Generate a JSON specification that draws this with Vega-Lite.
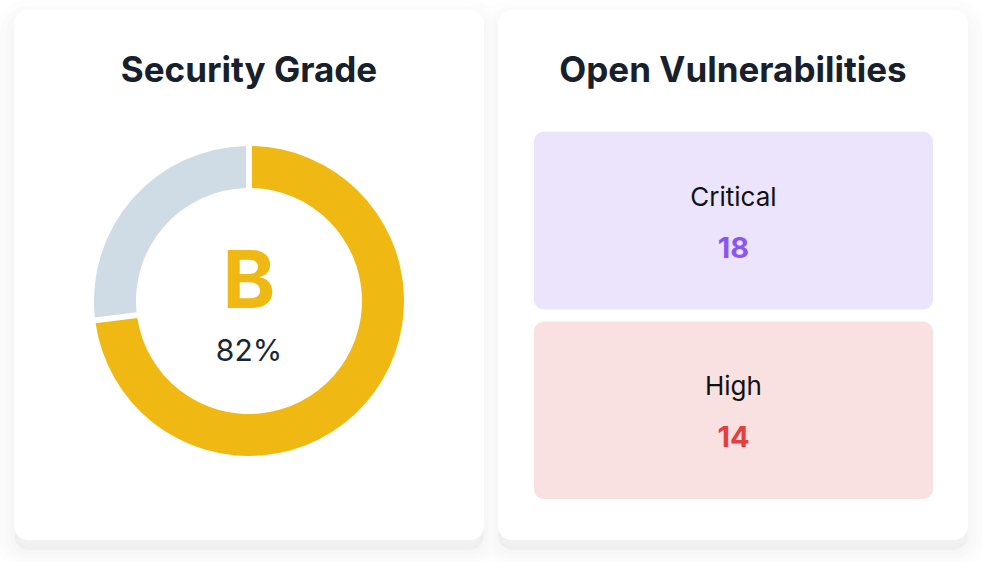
{
  "$schema": "https://vega.github.io/schema/vega-lite/v6.json",
  "background": "#ffffff",
  "padding": 0,
  "spacing": 0,
  "config": {"view": {"stroke": null}, "font": "Inter"},
  "resolve": {"scale": {"color": "independent", "fill": "independent"}},
  "datasets": {
    "cardL": [{"card": "grade"}],
    "cardR": [{"card": "vulns"}],
    "donut": [{"part": "Score", "value": 73, "rank": 1}, {"part": "Remaining", "value": 27, "rank": 2}],
    "grade": [{"grade": "B", "pct": "82%"}],
    "titleL": [{"t": "Security Grade"}],
    "titleR": [{"t": "Open Vulnerabilities"}],
    "vulns": [{"level": "Critical", "count": 18}, {"level": "High", "count": 14}]
  },
  "hconcat": [
    {
      "width": 491,
      "height": 562,
      "encoding": {
        "x": {"field": "card", "type": "nominal", "axis": null, "scale": {"type": "band", "paddingInner": 0, "paddingOuter": 0.02234, "align": 0.667}},
        "y": {"field": "card", "type": "nominal", "axis": null, "scale": {"type": "band", "paddingInner": 0, "paddingOuter": 0.0302, "align": 0.3125}}
      },
      "layer": [
        {"data": {"name": "cardL"}, "mark": {"type": "rect", "clip": true, "cornerRadius": 14, "fill": "#000", "fillOpacity": 0.009, "stroke": "#000", "strokeOpacity": 0.009, "strokeWidth": 40, "yOffset": 10}},
        {"data": {"name": "cardL"}, "mark": {"type": "rect", "clip": true, "cornerRadius": 14, "fill": "#000", "fillOpacity": 0.009, "stroke": "#000", "strokeOpacity": 0.009, "strokeWidth": 28, "yOffset": 10}},
        {"data": {"name": "cardL"}, "mark": {"type": "rect", "clip": true, "cornerRadius": 14, "fill": "#000", "fillOpacity": 0.009, "stroke": "#000", "strokeOpacity": 0.009, "strokeWidth": 18, "yOffset": 10}},
        {"data": {"name": "cardL"}, "mark": {"type": "rect", "clip": true, "cornerRadius": 14, "fill": "#000", "fillOpacity": 0.009, "stroke": "#000", "strokeOpacity": 0.009, "strokeWidth": 8, "yOffset": 10}},
        {"data": {"name": "cardL"}, "mark": {"type": "rect", "cornerRadius": 14, "fill": "#ffffff"}},
        {"data": {"name": "titleL"}, "mark": {"type": "text", "fontSize": 35, "fontWeight": "bold", "color": "#17202b", "baseline": "middle", "dy": -204},
          "encoding": {"text": {"field": "t"}, "x": {"datum": "grade", "type": "nominal"}, "y": {"datum": "grade", "type": "nominal"}}},
        {"data": {"name": "donut"}, "mark": {"type": "arc", "radius": 155, "innerRadius": 113, "padAngle": 0.031, "yOffset": 26},
          "encoding": {
            "x": {"datum": "grade", "type": "nominal"},
            "y": {"datum": "grade", "type": "nominal"},
            "theta": {"field": "value", "type": "quantitative", "stack": true},
            "order": {"field": "rank", "type": "quantitative"},
            "color": {"field": "part", "type": "nominal", "legend": null, "scale": {"domain": ["Score", "Remaining"], "range": ["#efb813", "#cfdce6"]}}
          }},
        {"data": {"name": "grade"}, "mark": {"type": "text", "fontSize": 80, "fontWeight": "bold", "color": "#efb813", "baseline": "middle", "dy": 9},
          "encoding": {"text": {"field": "grade"}, "x": {"datum": "grade", "type": "nominal"}, "y": {"datum": "grade", "type": "nominal"}}},
        {"data": {"name": "grade"}, "mark": {"type": "text", "fontSize": 30, "color": "#1a2533", "baseline": "middle", "dy": 77},
          "encoding": {"text": {"field": "pct"}, "x": {"datum": "grade", "type": "nominal"}, "y": {"datum": "grade", "type": "nominal"}}}
      ]
    },
    {
      "width": 491,
      "height": 562,
      "resolve": {"scale": {"x": "independent", "y": "independent", "color": "independent", "fill": "independent"}},
      "layer": [
        {
          "data": {"name": "cardR"},
          "encoding": {
            "x": {"field": "card", "type": "nominal", "axis": null, "scale": {"type": "band", "paddingInner": 0, "paddingOuter": 0.02234, "align": 0.333}},
            "y": {"field": "card", "type": "nominal", "axis": null, "scale": {"type": "band", "paddingInner": 0, "paddingOuter": 0.0302, "align": 0.3125}}
          },
          "layer": [
            {"mark": {"type": "rect", "clip": true, "cornerRadius": 14, "fill": "#000", "fillOpacity": 0.009, "stroke": "#000", "strokeOpacity": 0.009, "strokeWidth": 40, "yOffset": 10}},
            {"mark": {"type": "rect", "clip": true, "cornerRadius": 14, "fill": "#000", "fillOpacity": 0.009, "stroke": "#000", "strokeOpacity": 0.009, "strokeWidth": 28, "yOffset": 10}},
            {"mark": {"type": "rect", "clip": true, "cornerRadius": 14, "fill": "#000", "fillOpacity": 0.009, "stroke": "#000", "strokeOpacity": 0.009, "strokeWidth": 18, "yOffset": 10}},
            {"mark": {"type": "rect", "clip": true, "cornerRadius": 14, "fill": "#000", "fillOpacity": 0.009, "stroke": "#000", "strokeOpacity": 0.009, "strokeWidth": 8, "yOffset": 10}},
            {"mark": {"type": "rect", "cornerRadius": 14, "fill": "#ffffff"}}
          ]
        },
        {
          "data": {"name": "titleR"},
          "mark": {"type": "text", "fontSize": 35, "fontWeight": "bold", "color": "#17202b", "baseline": "middle", "dy": -204},
          "encoding": {
            "text": {"field": "t"},
            "x": {"datum": "vulns", "type": "nominal", "axis": null, "scale": {"type": "band", "paddingInner": 0, "paddingOuter": 0.02234, "align": 0.333}},
            "y": {"datum": "vulns", "type": "nominal", "axis": null, "scale": {"type": "band", "paddingInner": 0, "paddingOuter": 0.0302, "align": 0.3125}}
          }
        },
        {
          "data": {"name": "vulns"},
          "encoding": {
            "x": {"datum": "box", "type": "nominal", "axis": null, "scale": {"type": "band", "paddingInner": 0, "paddingOuter": 0.11529, "align": 0.467}},
            "y": {"field": "level", "type": "nominal", "axis": null, "sort": ["Critical", "High"], "scale": {"type": "band", "paddingInner": 0.06316, "paddingOuter": 0.5132, "align": 0.677}}
          },
          "layer": [
            {"mark": {"type": "rect", "cornerRadius": 10},
              "encoding": {"fill": {"field": "level", "type": "nominal", "legend": null, "scale": {"domain": ["Critical", "High"], "range": ["#ece3fd", "#f9e1e1"]}}}},
            {"mark": {"type": "text", "fontSize": 26, "color": "#111111", "baseline": "middle", "dy": -23},
              "encoding": {"text": {"field": "level"}}},
            {"mark": {"type": "text", "fontSize": 29, "fontWeight": "bold", "baseline": "middle", "dy": 28},
              "encoding": {"text": {"field": "count"}, "color": {"field": "level", "type": "nominal", "legend": null, "scale": {"domain": ["Critical", "High"], "range": ["#8b55f6", "#e53e3e"]}}}}
          ]
        }
      ]
    }
  ]
}
